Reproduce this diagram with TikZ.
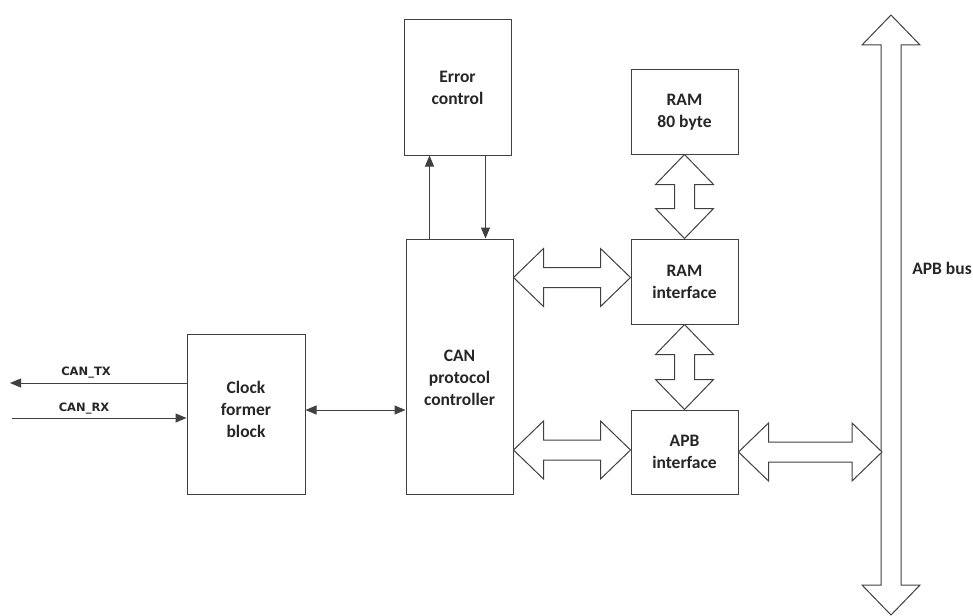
\documentclass[tikz,border=0pt]{standalone}
\usepackage{fontspec}
\setmainfont{Carlito}
\newfontfamily\pinfont{DejaVu Sans}
\usetikzlibrary{arrows.meta,calc}

\begin{document}
\begin{tikzpicture}[x=1pt,y=-1pt]
	\tikzset{block/.style={draw=black!75,line width=1pt,fill=white,inner sep=0pt,align=center,
	    font=\bfseries\fontsize{17.5}{22}\selectfont,text=black!85}}
	\tikzset{blocktext/.style={inner sep=0pt,align=center,
	    font=\bfseries\fontsize{17.5}{22}\selectfont,text=black!85}}
	\tikzset{link/.style={draw=black!75,line width=1pt,>={Triangle[length=11pt,width=9pt]}}}
	\tikzset{pin/.style={font=\pinfont\bfseries\fontsize{11.5}{13}\selectfont,text=black!85,inner sep=0pt}}
	\tikzset{fath/.style={draw=black!75,line width=1pt,fill=white,
	    to path={let \p1=(\tikztostart), \p2=(\tikztotarget) in
	    -- (\x1+30pt,\y1+29pt) -- (\x1+30pt,\y1+10pt) -- (\x2-30pt,\y1+10pt) -- (\x2-30pt,\y1+29pt)
	    -- (\x2,\y1) -- (\x2-30pt,\y1-29pt) -- (\x2-30pt,\y1-10pt) -- (\x1+30pt,\y1-10pt)
	    -- (\x1+30pt,\y1-29pt) -- cycle}}}
	\tikzset{fatv/.style={draw=black!75,line width=1pt,fill=white,
	    to path={let \p1=(\tikztostart), \p2=(\tikztotarget) in
	    -- (\x1+29pt,\y1-30pt) -- (\x1+10pt,\y1-30pt) -- (\x1+10pt,\y2+30pt) -- (\x1+29pt,\y2+30pt)
	    -- (\x1,\y2) -- (\x1-29pt,\y2+30pt) -- (\x1-10pt,\y2+30pt) -- (\x1-10pt,\y1-30pt)
	    -- (\x1-29pt,\y1-30pt) -- cycle}}}

	\useasboundingbox (0,0) rectangle (973,615);

	% blocks
	\node[block,minimum width=107pt,minimum height=135pt] (err) at (457.5,87.5) {Error\\control};
	\node[block,minimum width=107pt,minimum height=84pt] (ram) at (684.5,112) {RAM\\80 byte};
	\node[block,minimum width=107pt,minimum height=255pt] (can) at (459.5,366.5) {};
	\node[blocktext] (cantext) at (459.5,378) {CAN\\protocol\\controller};
	\node[block,minimum width=107pt,minimum height=85pt] (ramif) at (684.5,281.5) {RAM\\interface};
	\node[block,minimum width=107pt,minimum height=84pt] (apbif) at (684.5,452) {APB\\interface};
	\node[block,minimum width=118pt,minimum height=160pt] (clk) at (246,414) {};
	\node[blocktext] (clktext) at (246,409) {Clock\\former\\block};

	% bus
	\coordinate (bustop) at (891,15);
	\coordinate (busbot) at (891,615);
	\draw[fatv] (bustop) to (busbot);
	\node[blocktext] (buslabel) at (942,268) {APB bus};

	% pins
	\coordinate (tx) at (10,383);
	\coordinate (rx) at (12,418);
	\draw[link,->] (clk.west |- tx) -- (tx);
	\draw[link,->] (rx) -- (clk.west |- rx);
	\node[pin] (txlabel) at (86,373) {CAN\_TX};
	\node[pin] (rxlabel) at (84,409) {CAN\_RX};

	% links
	\draw[link,<->] ([yshift=4pt]clk.east) -- ([yshift=4pt]clk.east -| can.west);
	\draw[link,->] ([xshift=-30pt]can.north) -- ([xshift=-30pt]can.north |- err.south);
	\draw[link,->] ([xshift=26pt]can.north |- err.south) -- ([xshift=26pt]can.north);
	\draw[fath] ([yshift=4pt]can.east |- ramif.west) to ([yshift=4pt]ramif.west);
	\draw[fath] ([yshift=2pt]can.east |- apbif.west) to ([yshift=2pt]apbif.west);
	\draw[fath] (apbif.east) to ([xshift=-9pt]bustop |- apbif.east);
	\draw[fatv] (ram.south) to (ramif.north);
	\draw[fatv] (ramif.south) to (apbif.north);
	\end{tikzpicture}
\end{document}
